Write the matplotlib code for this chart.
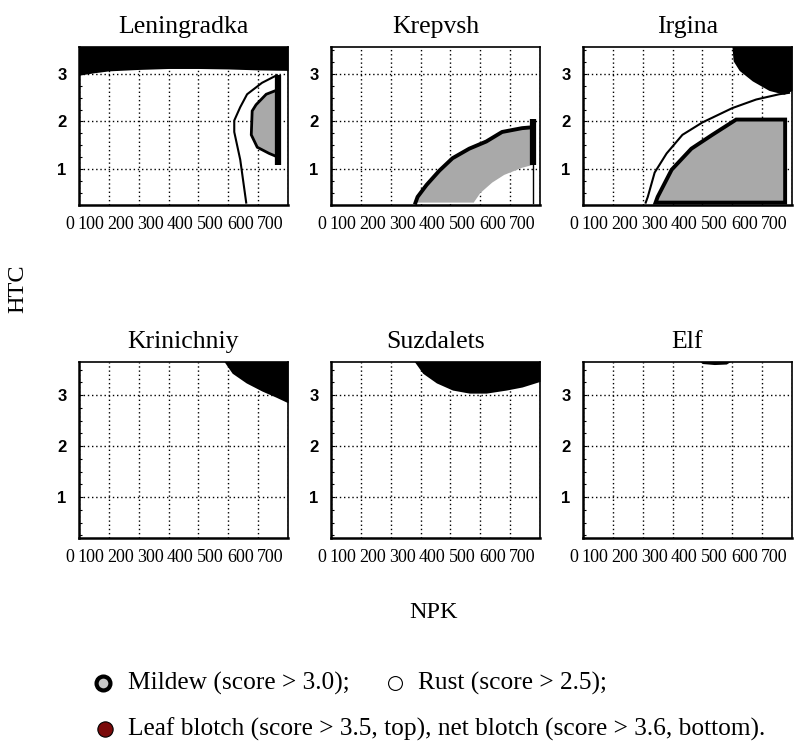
import matplotlib
matplotlib.use("Agg")
import matplotlib.pyplot as plt
import matplotlib.transforms as mtransforms
import numpy as np

plt.rcParams['font.family'] = ['Liberation Serif', 'DejaVu Serif']

varieties = ["Leningradka", "Krepvsh", "Irgina", "Krinichniy", "Suzdalets", "Elf"]
npk_ticks = [0, 100, 200, 300, 400, 500, 600, 700]
htc_ticks = [1, 2, 3]

# black area: leaf blotch (top row) / net blotch (bottom row), lower edge of the area
leningradka_blotch_npk = [0, 50, 100, 200, 300, 400, 500, 600, 700]
leningradka_blotch_htc = [2.97, 3.02, 3.06, 3.09, 3.11, 3.11, 3.1, 3.08, 3.07]
irgina_blotch_npk = [497, 503, 523, 567, 623, 673, 700]
irgina_blotch_htc = [3.7, 3.27, 3.07, 2.85, 2.65, 2.57, 2.65]
krinichniy_blotch_npk = [475, 513, 560, 613, 660, 700]
krinichniy_blotch_htc = [3.75, 3.43, 3.24, 3.08, 2.96, 2.85]
suzdalets_blotch_npk = [268, 307, 353, 407, 463, 520, 587, 640, 700]
suzdalets_blotch_htc = [3.75, 3.43, 3.24, 3.1, 3.04, 3.04, 3.1, 3.16, 3.27]
elf_blotch_npk = [385, 400, 440, 480, 505]
elf_blotch_htc = [3.7, 3.62, 3.6, 3.61, 3.7]

# white area edge: rust
leningradka_rust_npk = [560, 540, 520, 520, 540, 563, 613, 663]
leningradka_rust_htc = [0.3, 1.2, 1.78, 2.02, 2.3, 2.57, 2.81, 2.97]
irgina_rust_npk = [210, 217, 240, 280, 333, 400, 500, 580, 657, 690]
irgina_rust_htc = [0.3, 0.42, 0.93, 1.33, 1.72, 1.98, 2.28, 2.46, 2.57, 2.6]

# grey area: mildew
leningradka_mildew_npk = [668, 660, 627, 593, 580, 577, 597, 637, 660, 668]
leningradka_mildew_htc = [2.7, 2.65, 2.57, 2.35, 2.22, 1.72, 1.46, 1.33, 1.27, 1.25]
leningradka_bar_npk = 668
leningradka_bar_htc = [1.09, 2.97]
krepvsh_mildew_top_npk = [283, 290, 320, 363, 407, 463, 520, 573, 640, 677]
krepvsh_mildew_top_htc = [0.3, 0.42, 0.67, 0.97, 1.23, 1.43, 1.58, 1.78, 1.86, 1.88]
krepvsh_mildew_low_npk = [478, 500, 540, 580, 640, 677]
krepvsh_mildew_low_htc = [0.3, 0.5, 0.72, 0.88, 1.03, 1.09]
krepvsh_bar_npk = 677
krepvsh_bar_htc = [1.09, 2.05]
irgina_mildew_npk = [243, 250, 297, 363, 433, 513, 677, 677]
irgina_mildew_htc = [0.3, 0.42, 0.99, 1.43, 1.72, 2.04, 2.04, 0.3]

MILDEW_GREY = '#a9a9a9'

fig = plt.figure(figsize=(8.02, 7.42), dpi=100)

col_left = [79, 331, 583]
panel_w = 209
rows = [(47, 205, (0.42, 3.56)), (362, 538, (0.2, 3.65))]
# the NPK numbers were typed as one line under each panel, so they sit left of the ticks
label_shift_px = [-9, -18, -18, -18, -18, -18, -18, -18]

axes = []
for r, (top, bottom, ylim) in enumerate(rows):
    for c in range(3):
        ax = fig.add_axes([col_left[c] / 802, 1 - bottom / 742, panel_w / 802, (bottom - top) / 742])
        ax.set_xlim(0, 700)
        ax.set_ylim(*ylim)
        ax.set_axisbelow(True)
        ax.grid(True, color='black', linestyle=(0, (1, 2)), lw=1.0)
        ax.set_xticks(npk_ticks, [str(t) for t in npk_ticks])
        ax.set_yticks(htc_ticks, [str(t) for t in htc_ticks])
        ax.set_yticks(np.arange(0.25, 3.6, 0.25), minor=True)
        ax.tick_params(axis='x', length=0, pad=8, labelsize=13)
        ax.tick_params(axis='y', which='major', direction='in', length=3, pad=9)
        ax.tick_params(axis='y', which='minor', direction='in', length=2.5, width=0.8)
        for lab in ax.get_yticklabels():
            lab.set_family(['Liberation Sans', 'DejaVu Sans'])
            lab.set_fontweight('bold')
            lab.set_fontsize(12)
        for tick, sh in zip(ax.xaxis.get_major_ticks(), label_shift_px):
            offset = mtransforms.ScaledTranslation(sh / 100, 0, fig.dpi_scale_trans)
            tick.label1.set_transform(tick.label1.get_transform() + offset)
        for side in ['top', 'right']:
            ax.spines[side].set_linewidth(1.2)
        for side in ['left', 'bottom']:
            ax.spines[side].set_linewidth(1.8)
        ax.set_title(varieties[r * 3 + c], fontsize=18.5, pad=10)
        axes.append(ax)

ax_len, ax_kre, ax_irg, ax_kri, ax_suz, ax_elf = axes

# Leningradka
ax_len.fill_between(leningradka_blotch_npk, leningradka_blotch_htc, 5, color='black', lw=0)
ax_len.plot(leningradka_rust_npk, leningradka_rust_htc, color='black', lw=1.5)
ax_len.fill(leningradka_mildew_npk, leningradka_mildew_htc, facecolor=MILDEW_GREY,
            edgecolor='black', lw=2)
ax_len.plot([leningradka_bar_npk] * 2, leningradka_bar_htc, color='black', lw=4.5,
            solid_capstyle='butt')

# Krepvsh
ax_kre.fill(krepvsh_mildew_top_npk + krepvsh_mildew_low_npk[::-1],
            krepvsh_mildew_top_htc + krepvsh_mildew_low_htc[::-1],
            facecolor=MILDEW_GREY, lw=0)
ax_kre.plot(krepvsh_mildew_top_npk, krepvsh_mildew_top_htc, color='black', lw=2.8)
ax_kre.plot([krepvsh_bar_npk] * 2, krepvsh_bar_htc, color='black', lw=4.5,
            solid_capstyle='butt')
ax_kre.plot([krepvsh_bar_npk] * 2, [0.3, krepvsh_bar_htc[0]], color='black', lw=1)

# Irgina
ax_irg.fill_between(irgina_blotch_npk, irgina_blotch_htc, 5, color='black', lw=0)
ax_irg.plot(irgina_rust_npk, irgina_rust_htc, color='black', lw=1.5)
ax_irg.fill(irgina_mildew_npk, irgina_mildew_htc, facecolor=MILDEW_GREY,
            edgecolor='black', lw=2.8)

# bottom row: net blotch only
ax_kri.fill_between(krinichniy_blotch_npk, krinichniy_blotch_htc, 5, color='black', lw=0)
ax_suz.fill_between(suzdalets_blotch_npk, suzdalets_blotch_htc, 5, color='black', lw=0)
ax_elf.fill_between(elf_blotch_npk, elf_blotch_htc, 5, color='black', lw=0)

fig.text(18 / 802, 1 - 289 / 742, 'HTC', rotation=90, ha='center', va='center', fontsize=17.5)
fig.text(434 / 802, 1 - 613 / 742, 'NPK', ha='center', va='center', fontsize=17.5)

# legend drawn in pixel space
leg = fig.add_axes([0, 0, 1, 1])
leg.set_xlim(0, 802)
leg.set_ylim(742, 0)
leg.axis('off')
leg.plot([103], [683], 'o', ms=10, mfc='#c8c8c8', mec='black', mew=3)
leg.text(128, 683, 'Mildew (score > 3.0);', va='center', fontsize=18.3)
leg.plot([395], [683], 'o', ms=10, mfc='white', mec='black', mew=0.8)
leg.text(418, 683, 'Rust (score > 2.5);', va='center', fontsize=18.3)
leg.plot([105], [729], 'o', ms=11, mfc='#7a0a0a', mec='black', mew=0.8)
leg.text(128, 729, 'Leaf blotch (score > 3.5, top), net blotch (score > 3.6, bottom).',
         va='center', fontsize=18.3)

fig.savefig('out.png', dpi=100)
